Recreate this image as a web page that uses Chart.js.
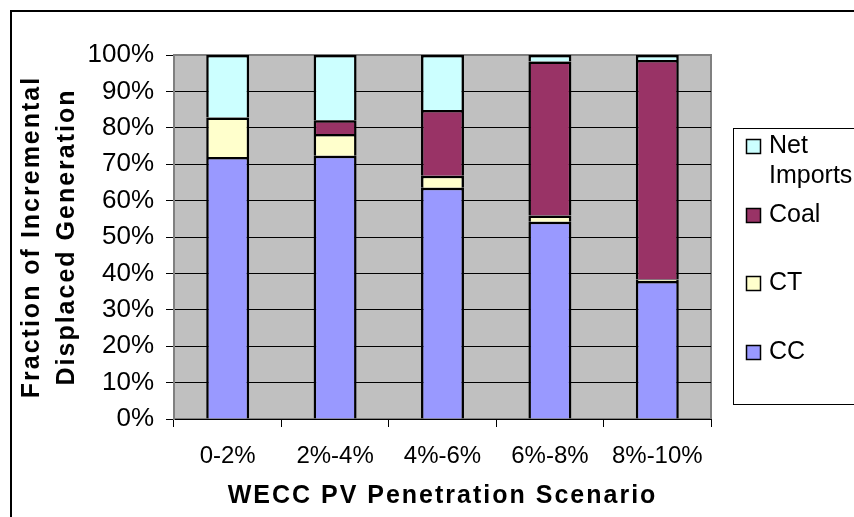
<!DOCTYPE html>
<html><head><meta charset="utf-8">
<script src="https://cdn.jsdelivr.net/npm/chart.js@4/dist/chart.umd.min.js"></script>
<style>html,body{margin:0;padding:0;background:#fff;}#wrap{width:854px;height:517px;position:relative;}</style>
</head><body><div id="wrap"><canvas id="c" width="854" height="517"></canvas></div>
<script>
const categories = ['0-2%', '2%-4%', '4%-6%', '6%-8%', '8%-10%'];
const seriesNames = ['CC', 'CT', 'Coal', 'Net Imports'];
const ccValues = [72.0, 72.3, 63.5, 54.2, 37.9];
const ctValues = [10.8, 6.0, 3.3, 1.7, 0.4];
const coalValues = [0, 3.8, 18.1, 42.3, 60.3];
const netImportsValues = [17.2, 17.9, 15.1, 1.8, 1.4];
const seriesColors = ['#9999FF', '#FFFFCC', '#993366', '#CCFFFF'];
const xTitle = 'WECC PV Penetration Scenario';
const yTitle = ['Fraction of Incremental', 'Displaced Generation'];

const FONT = '"Liberation Sans", Arial, Helvetica, sans-serif';
const seriesValues = [ccValues, ctValues, coalValues, netImportsValues];

const plotBgPlugin = {
  id: 'plotBg',
  beforeDraw(chart) {
    const {ctx, chartArea: a} = chart;
    ctx.save();
    ctx.fillStyle = '#C0C0C0';
    ctx.fillRect(a.left, a.top, a.right - a.left, a.bottom - a.top);
    ctx.strokeStyle = '#808080';
    ctx.lineWidth = 2;
    ctx.strokeRect(a.left, a.top, a.right - a.left, a.bottom - a.top);
    ctx.restore();
    ['x', 'y'].forEach(id => {
      const s = chart.scales[id];
      if (s && !s.__ls) {
        const orig = s.drawTitle;
        s.drawTitle = function () {
          const c = this.ctx; const prev = c.letterSpacing;
          c.letterSpacing = '2px'; orig.call(this); c.letterSpacing = prev;
        };
        s.__ls = true;
      }
    });
  }
};

const legendFramePlugin = {
  id: 'legendFrame',
  afterDraw(chart) {
    const ctx = chart.ctx;
    ctx.save();
    ctx.strokeStyle = '#000';
    ctx.lineWidth = 2;
    ctx.strokeRect(11, 11, 1000, 1000);
    ctx.lineWidth = 1;
    ctx.strokeRect(733.5, 128.5, 200, 276);
    ctx.font = '25px ' + FONT;
    ctx.textBaseline = 'middle';
    ctx.textAlign = 'left';
    const ds = chart.data.datasets;
    const order = ds.map((d, i) => i).reverse();
    order.forEach((di, k) => {
      const d = ds[di];
      const cy = 146 + k * 68.7;
      ctx.fillStyle = d.backgroundColor;
      ctx.fillRect(746, Math.round(cy) - 7, 15, 15);
      ctx.strokeStyle = '#000';
      ctx.lineWidth = 1.5;
      ctx.strokeRect(746.5, Math.round(cy) - 6.5, 14, 14);
      ctx.fillStyle = '#000';
      d.label.split(' ').forEach((ln, j) => ctx.fillText(ln, 769, cy + j * 30));
    });
    ctx.restore();
  }
};

new Chart(document.getElementById('c'), {
  type: 'bar',
  data: {
    labels: categories,
    datasets: seriesNames.map((name, i) => ({
      label: name,
      data: seriesValues[i],
      backgroundColor: seriesColors[i],
      borderColor: '#000',
      borderWidth: 2.5,
      barPercentage: 0.4,
      categoryPercentage: 1.0
    }))
  },
  options: {
    responsive: false,
    animation: false,
    devicePixelRatio: 1,
    layout: {padding: {top: 55, right: 143, left: 0, bottom: 0}},
    plugins: {legend: {display: false}, tooltip: {enabled: false}},
    scales: {
      x: {
        stacked: true,
        grid: {display: true, drawOnChartArea: false, drawTicks: true, tickLength: 8, color: '#000', offset: true},
        border: {color: '#000', width: 1},
        ticks: {font: {family: FONT, size: 24}, color: '#000', padding: 15, maxRotation: 0, autoSkip: false},
        title: {display: true, text: xTitle, color: '#000', font: {family: FONT, size: 25, weight: 'bold', lineHeight: 1.2}, padding: {top: 0, bottom: 6}},
        afterFit(s) { s.height = 98; }
      },
      y: {
        stacked: true,
        min: 0, max: 100,
        ticks: {stepSize: 10, callback: v => v + '%', font: {family: FONT, size: 26}, color: '#000', padding: 12},
        grid: {color: c => (c.tick && c.tick.value === 100) ? '#808080' : '#000', tickColor: '#000', tickLength: 8, lineWidth: 1},
        border: {color: '#808080', width: 2},
        title: {display: true, text: yTitle, color: '#000', font: {family: FONT, size: 25, weight: 'bold', lineHeight: 1.4}, padding: {top: 15, bottom: 0}},
        afterFit(s) { s.width = 174; }
      }
    }
  },
  plugins: [plotBgPlugin, legendFramePlugin]
});
</script></body></html>
